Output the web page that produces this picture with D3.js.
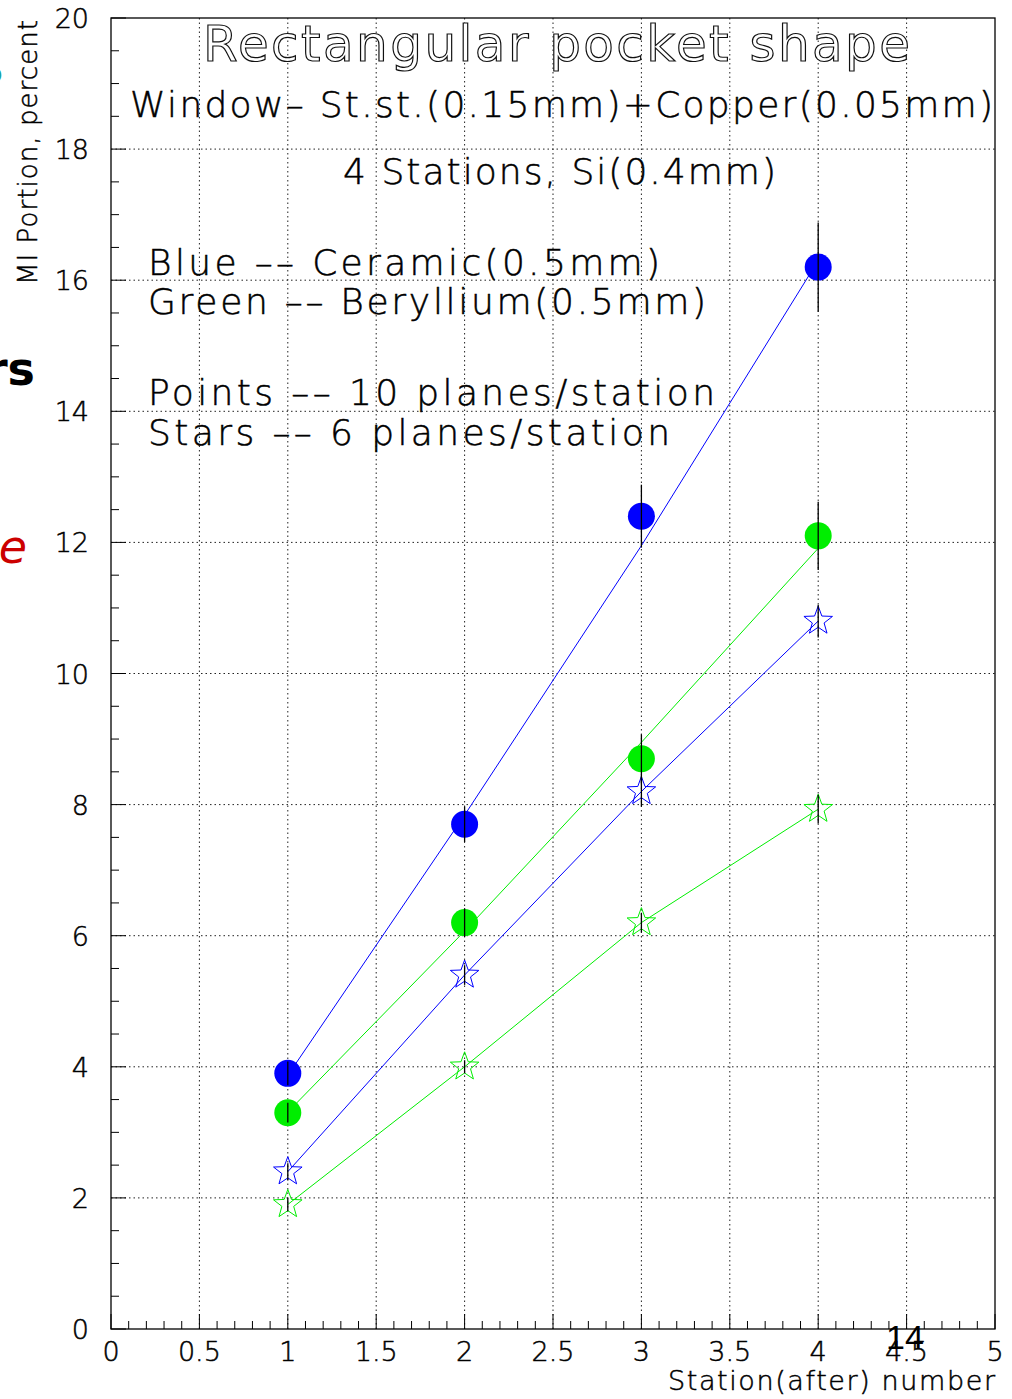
<!DOCTYPE html>
<html>
<head>
<meta charset="utf-8">
<script src="https://cdn.jsdelivr.net/npm/d3@7"></script>
<style>
  html, body { margin: 0; padding: 0; background: #fff; }
  svg { display: block; }
  text { font-family: "DejaVu Sans", "Liberation Sans", sans-serif; }
  .thin { font-weight: 200; stroke: #000; stroke-width: 0.5px; }
</style>
</head>
<body>
<svg id="chart" width="1012" height="1399"></svg>
<script>
// ---------- data ----------
const stations = [1, 2, 3, 4];
const ceramic10 = [3.9, 7.7, 12.4, 16.2];
const ceramic10Err = [0.18, 0.27, 0.48, 0.68];
const ceramic10Line = [3.87, 7.84, 11.95, 16.3];
const beryllium10 = [3.3, 6.2, 8.7, 12.1];
const beryllium10Err = [0.15, 0.22, 0.37, 0.52];
const beryllium10Line = [3.31, 6.07, 8.95, 11.91];
const ceramic6 = [2.4, 5.4, 8.2, 10.8];
const ceramic6Err = [0.13, 0.15, 0.23, 0.25];
const beryllium6 = [1.9, 4.0, 6.2, 7.93];
const beryllium6Err = [0.1, 0.1, 0.15, 0.22];
const xTicks = [0, 0.5, 1, 1.5, 2, 2.5, 3, 3.5, 4, 4.5, 5];
const xTickLabels = ["0", "0.5", "1", "1.5", "2", "2.5", "3", "3.5", "4", "4.5", "5"];
const yTicks = [0, 2, 4, 6, 8, 10, 12, 14, 16, 18, 20];
const yTickLabels = ["0", "2", "4", "6", "8", "10", "12", "14", "16", "18", "20"];

const BLUE = "#0000ff", GREEN = "#00ee00";

const svg = d3.select("#chart");
const x = d3.scaleLinear().domain([0, 5]).range([111, 995]);
const y = d3.scaleLinear().domain([0, 20]).range([1329, 18]);

// ---------- grid ----------
const grid = svg.append("g").attr("stroke", "#222").attr("stroke-width", 1)
  .attr("stroke-dasharray", "1.5,3");
xTicks.slice(1, -1).forEach(t => {
  grid.append("line").attr("x1", x(t)).attr("x2", x(t)).attr("y1", y(0)).attr("y2", y(20));
});
yTicks.slice(1, -1).forEach(t => {
  grid.append("line").attr("x1", x(0)).attr("x2", x(5)).attr("y1", y(t)).attr("y2", y(t));
});

// ---------- axis ticks (inside) ----------
const ticks = svg.append("g").attr("stroke", "#000").attr("stroke-width", 1);
d3.range(0, 5.0001, 0.1).forEach(t => {
  const major = Math.abs(t * 2 - Math.round(t * 2)) < 1e-6;
  ticks.append("line").attr("x1", x(t)).attr("x2", x(t))
    .attr("y1", y(0)).attr("y2", y(0) - (major ? 15 : 8));
});
d3.range(0, 20.0001, 0.5).forEach(t => {
  const major = Math.abs(t / 2 - Math.round(t / 2)) < 1e-6;
  ticks.append("line").attr("x1", x(0)).attr("x2", x(0) + (major ? 15 : 8))
    .attr("y1", y(t)).attr("y2", y(t));
});

// ---------- connecting lines ----------
const line = d3.line().x(d => x(d[0])).y(d => y(d[1]));
const lineSeries = [
  [ceramic10Line, BLUE], [beryllium10Line, GREEN],
  [ceramic6, BLUE], [beryllium6, GREEN]
];
lineSeries.forEach(([vals, col]) => {
  svg.append("path").attr("d", line(stations.map((s, i) => [s, vals[i]])))
    .attr("fill", "none").attr("stroke", col).attr("stroke-width", 1);
});

// ---------- markers ----------
function starPath(R, r) {
  const pts = [];
  for (let k = 0; k < 10; k++) {
    const a = -Math.PI / 2 + k * Math.PI / 5;
    const rad = k % 2 === 0 ? R : r;
    pts.push([rad * Math.cos(a), rad * Math.sin(a)]);
  }
  return "M" + pts.map(p => p[0].toFixed(2) + "," + p[1].toFixed(2)).join("L") + "Z";
}
function circles(vals, col) {
  svg.append("g").selectAll("circle").data(vals).join("circle")
    .attr("cx", (d, i) => x(stations[i])).attr("cy", d => y(d))
    .attr("r", 13.5).attr("fill", col);
}
function stars(vals, col) {
  svg.append("g").selectAll("path").data(vals).join("path")
    .attr("d", starPath(15, 6.2))
    .attr("transform", (d, i) => `translate(${x(stations[i])},${y(d)})`)
    .attr("fill", "none").attr("stroke", col).attr("stroke-width", 1);
}
function errBars(vals, errs) {
  svg.append("g").selectAll("line").data(vals).join("line")
    .attr("x1", (d, i) => x(stations[i])).attr("x2", (d, i) => x(stations[i]))
    .attr("y1", (d, i) => y(d + errs[i])).attr("y2", (d, i) => y(d - errs[i]))
    .attr("stroke", "#000").attr("stroke-width", 1.3);
}
circles(ceramic10, BLUE);
circles(beryllium10, GREEN);
stars(ceramic6, BLUE);
stars(beryllium6, GREEN);
errBars(ceramic10, ceramic10Err);
errBars(beryllium10, beryllium10Err);
errBars(ceramic6, ceramic6Err);
errBars(beryllium6, beryllium6Err);

// ---------- frame ----------
svg.append("rect").attr("x", x(0)).attr("y", y(20))
  .attr("width", x(5) - x(0)).attr("height", y(0) - y(20))
  .attr("fill", "none").attr("stroke", "#000").attr("stroke-width", 1.3);

// ---------- tick labels ----------
svg.append("g").selectAll("text").data(xTicks).join("text")
  .attr("class", "thin")
  .attr("x", d => x(d)).attr("y", 1361)
  .attr("text-anchor", "middle").attr("font-size", 27)
  .text((d, i) => xTickLabels[i]);
svg.append("g").selectAll("text").data(yTicks).join("text")
  .attr("class", "thin")
  .attr("x", 89).attr("y", d => y(d) + 10)
  .attr("text-anchor", "end").attr("font-size", 27)
  .text((d, i) => yTickLabels[i]);

// ---------- texts ----------
function label(str, px, py, size, width, anchor) {
  const t = svg.append("text").attr("class", "thin").attr("x", px).attr("y", py)
    .attr("font-size", size).attr("text-anchor", anchor || "start").text(str);
  if (width) t.attr("textLength", width).attr("lengthAdjust", "spacing");
  return t;
}
label("Station(after) number", 995, 1390, 27, 327, "end");
svg.append("text").attr("class", "thin")
  .attr("transform", "translate(37,20) rotate(-90)")
  .attr("text-anchor", "end").attr("font-size", 26)
  .attr("textLength", 265).attr("lengthAdjust", "spacing")
  .text("MI Portion, percent");

label("Rectangular pocket shape", 203, 61, 50, 707)
  .style("fill", "#fff").style("stroke", "#111").style("stroke-width", "1.2px")
  .style("font-weight", "normal");
label("Window\u2013 St.st.(0.15mm)+Copper(0.05mm)", 130, 117, 36, 863);
label("4 Stations, Si(0.4mm)", 343, 184, 36, 433);
label("Blue \u2013\u2013 Ceramic(0.5mm)", 148, 275, 36, 512);
label("Green \u2013\u2013 Beryllium(0.5mm)", 148, 314, 36, 558);
label("Points \u2013\u2013 10 planes/station", 148, 405, 36, 567);
label("Stars \u2013\u2013 6 planes/station", 148, 445, 36, 522);

// slide fragments at the left edge and page number
function plain(str, px, py, size, anchor) {
  return svg.append("text").attr("x", px).attr("y", py)
    .attr("font-size", size).attr("text-anchor", anchor).text(str);
}
plain("?", 4, 100, 44, "end").style("fill", "#19a3a3").style("font-weight", "bold");
plain("ers", 35, 385, 46, "end").style("font-weight", "bold");
plain("e", 27, 563, 46, "end").style("fill", "#cc0000").style("font-style", "italic");
plain("14", 905, 1349, 34, "middle").style("font-family", "'Liberation Sans', sans-serif");
</script>
</body>
</html>
